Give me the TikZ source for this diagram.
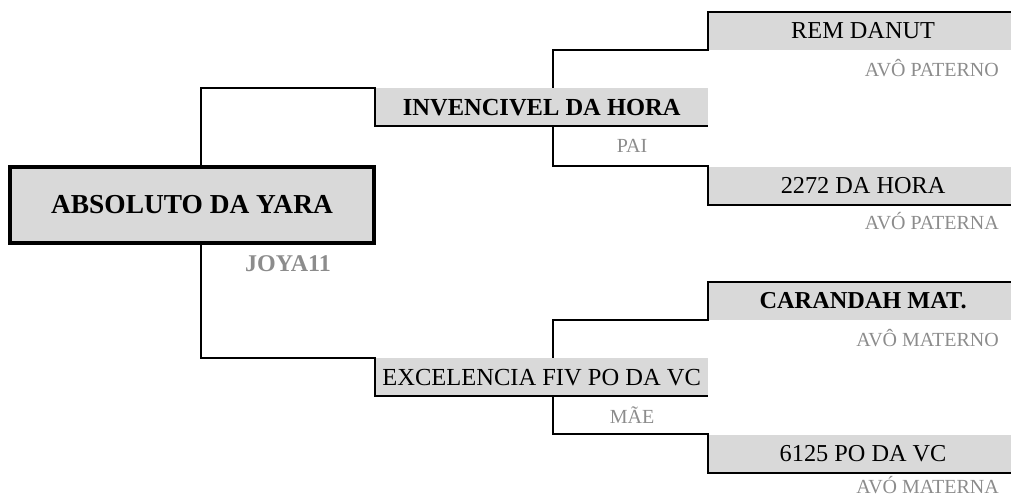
\documentclass[tikz,border=0pt]{standalone}
\usepackage{fontspec}
\setmainfont{Liberation Serif}
\usetikzlibrary{positioning}
\definecolor{pedfill}{HTML}{D9D9D9}
\definecolor{pedlabel}{HTML}{8C8C8C}

\begin{document}
\begin{tikzpicture}[
  x=1pt,y=1pt,
  mainbox/.style={draw=black,line width=4pt,fill=pedfill,minimum width=364pt,minimum height=76pt,inner sep=0pt,font=\fontsize{27.4}{30}\selectfont\bfseries},
  parbox/.style={fill=pedfill,minimum width=333pt,minimum height=38pt,inner sep=0pt,font=\fontsize{24.5}{28}\selectfont},
  avobox/.style={fill=pedfill,minimum width=303pt,minimum height=38pt,inner sep=0pt,font=\fontsize{24.3}{28}\selectfont},
  role/.style={text=pedlabel,inner sep=0pt,font=\fontsize{20}{23}\selectfont},
  link/.style={draw=black,line width=2pt}
]
\useasboundingbox (0,0) rectangle (1011,498);
% animal
\node[mainbox] (main) at (192,293) {ABSOLUTO DA YARA};
\node[role,font=\fontsize{24}{28}\selectfont\bfseries,anchor=base] (reg) at (288,226) {JOYA11};
% pais
\node[parbox,anchor=north west] (pai) at (375,410) {\textbf{INVENCIVEL DA HORA}};
\node[parbox,anchor=north west] (mae) at (375,140) {EXCELENCIA FIV PO DA VC};
\node[role,anchor=base] (paitxt) at (632,345) {PAI};
\node[role,anchor=base] (maetxt) at (632,75) {MÃE};
% avos
\node[avobox,above right=38pt and 0pt of pai.north east] (avop) {\hspace*{6pt}REM DANUT};
\node[avobox,below right=40pt and 0pt of pai.south east] (avap) {\hspace*{6pt}2272 DA HORA};
\node[avobox,above right=38pt and 0pt of mae.north east] (avom) {\hspace*{6pt}\textbf{CARANDAH MAT.}};
\node[avobox,below right=38pt and 0pt of mae.south east] (avam) {\hspace*{6pt}6125 PO DA VC};
\node[role,anchor=base east] (avoptxt) at (999,421) {AVÔ PATERNO};
\node[role,anchor=base east] (avaptxt) at (999,268) {AVÓ PATERNA};
\node[role,anchor=base east] (avomtxt) at (999,151) {AVÔ MATERNO};
\node[role,anchor=base east] (avamtxt) at (999,5) {AVÓ MATERNA};

\draw[link] ([xshift=9pt]main.north) |- (pai.north west) -- (pai.south west) -- (pai.south east);
\draw[link] ([xshift=9pt]main.south) |- (mae.north west) -- (mae.south west) -- (mae.south east);
\draw[link] ([xshift=11.5pt]pai.north) |- (avop.south west) -- (avop.north west) -- (avop.north east);
\draw[link] ([xshift=11.5pt]pai.south) |- (avap.north west) -- (avap.south west) -- (avap.south east);
\draw[link] ([xshift=11.5pt]mae.north) |- (avom.south west) -- (avom.north west) -- (avom.north east);
\draw[link] ([xshift=11.5pt]mae.south) |- (avam.north west) -- (avam.south west) -- (avam.south east);
\end{tikzpicture}
\end{document}
